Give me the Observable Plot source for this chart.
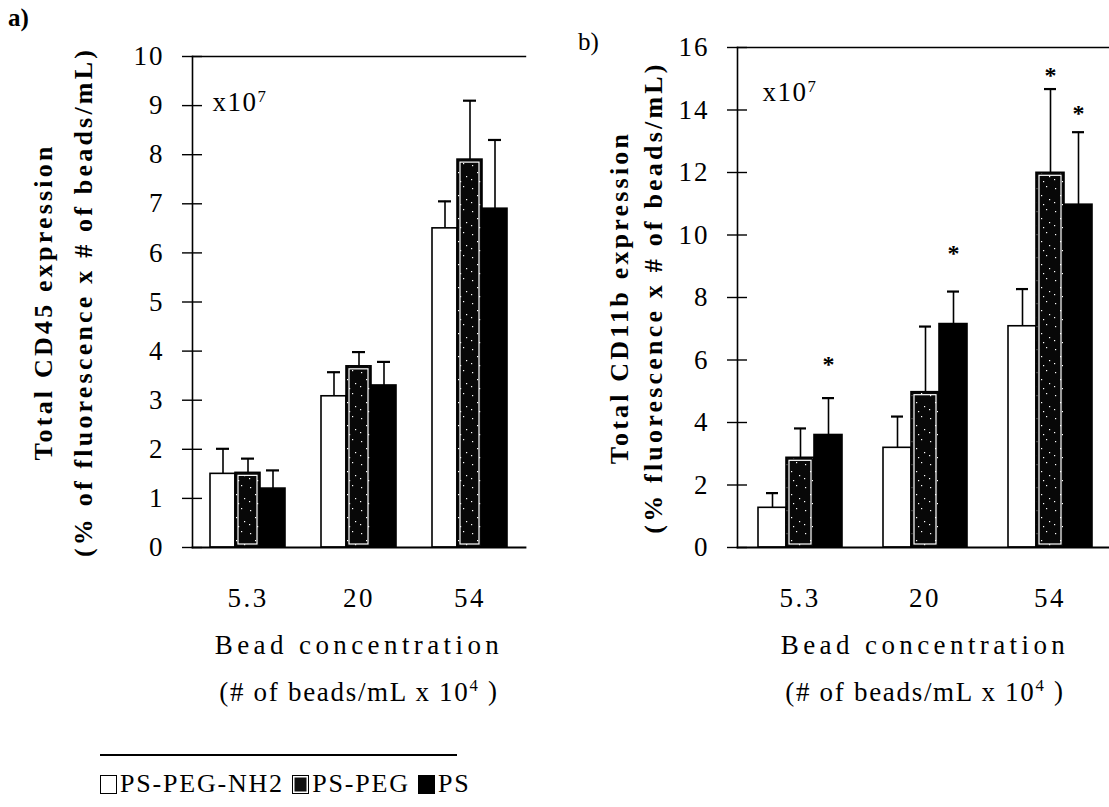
<!DOCTYPE html>
<html><head><meta charset="utf-8">
<script src="https://cdn.jsdelivr.net/npm/d3@7"></script>
<script src="https://cdn.jsdelivr.net/npm/@observablehq/plot@0.6"></script>
<style>
body{margin:0;background:#fff;}
#root{position:relative;width:1109px;height:807px;overflow:hidden;font-family:"Liberation Serif",serif;color:#000;background:#fff;}
.panel{position:absolute;top:0;}
.tag{position:absolute;font-size:25px;}
#legend{position:absolute;left:100px;top:754px;width:400px;}
#legend .rule{border-top:2px solid #000;width:357px;}
#legend .items{margin-top:13px;font-size:26px;display:flex;align-items:center;white-space:nowrap;letter-spacing:1.8px;line-height:30px;}
#legend .sw{display:inline-block;width:17px;height:19px;box-sizing:border-box;border:1.5px solid #000;margin-right:3px;}
</style></head><body><div id="root">
<div class="tag" style="left:8px;top:4px;font-weight:bold;">a)</div>
<div class="tag" style="left:578px;top:28px;">b)</div>
<div id="legend"><div class="rule"></div><div class="items">
<span class="sw" style="background:#fff"></span><span>PS-PEG-NH2&nbsp;</span>
<span class="sw" style="background:#111;box-shadow:inset 0 0 0 1.5px #fff;border-width:1.5px"></span><span>PS-PEG&nbsp;</span>
<span class="sw" style="background:#000"></span><span>PS</span>
</div></div>
</div>
<script>
// ---- data ----
const concentrations = ["5.3", "20", "54"];
const series = ["PS-PEG-NH2", "PS-PEG", "PS"];
// panel a: Total CD45 expression (x10^7), rows = concentration, cols = series
const cd45Mean  = [[1.5, 1.52, 1.2], [3.08, 3.69, 3.3], [6.5, 7.9, 6.9]];
const cd45Upper = [[2.01, 1.81, 1.57], [3.57, 3.98, 3.78], [7.05, 9.1, 8.3]];
// panel b: Total CD11b expression (x10^7)
const cd11bMean  = [[1.27, 2.87, 3.6], [3.19, 4.97, 7.15], [7.08, 11.99, 10.97]];
const cd11bUpper = [[1.74, 3.81, 4.78], [4.19, 7.07, 8.19], [8.27, 14.67, 13.29]];
// significance stars (level in axis units where the star sits; null = none)
const cd11bStar = [[null, null, 5.85], [null, null, 9.4], [null, 15.1, 13.9]];
const yTicksA = [0, 1, 2, 3, 4, 5, 6, 7, 8, 9, 10];
const yTicksB = [0, 2, 4, 6, 8, 10, 12, 14, 16];

function rows(mean, upper, star) {
  const out = [];
  concentrations.forEach((c, i) => series.forEach((s, j) => out.push({
    conc: c, series: s, value: mean[i][j], upper: upper[i][j], star: star ? star[i][j] : null
  })));
  return out;
}

function makePanel(opts) {
  const data = rows(opts.mean, opts.upper, opts.star);
  const pid = opts.pid;
  const serif = "Liberation Serif";
  const marks = [
    Plot.barY(data, {fx: "conc", x: "series", y: "value", fill: "series", stroke: "#000", strokeWidth: 1.6}),
    Plot.barY(data.filter(d => d.series === "PS-PEG"), {fx: "conc", x: "series", y: "value", fill: "none", stroke: "#fff", strokeWidth: 1.2, inset: 3, insetTop: 3}),
    Plot.ruleX(data, {fx: "conc", x: "series", y1: "value", y2: "upper", stroke: "#000", strokeWidth: 1.6}),
    Plot.tickY(data, {fx: "conc", x: "series", y: "upper", stroke: "#000", strokeWidth: 2.2, inset: opts.capInset}),
    Plot.text(data.filter(d => d.star != null), {fx: "conc", x: "series", y: "star", text: () => "*", fontSize: 24, fontWeight: "bold", fontFamily: serif}),
    Plot.frame({facet: "super", anchor: "bottom", stroke: "#000", strokeWidth: 1.8}),
    Plot.frame({facet: "super", anchor: "top", stroke: "#000", strokeWidth: 1.4}),
    Plot.frame({facet: "super", anchor: "left", stroke: "#000", strokeWidth: 1.6}),
    Plot.axisY({ticks: opts.ticks, tickSize: 20, dx: 10, tickFormat: () => "", label: null, stroke: "#000", strokeWidth: 1.4}),
    Plot.axisY({ticks: opts.ticks, tickSize: 0, tickPadding: 28, fontSize: 27, fontFamily: serif, fill: "#000", label: null}),
    Plot.axisFx({anchor: "bottom", tickSize: 0, tickPadding: 40, fontSize: 27, fontFamily: serif, fill: "#000", label: null}),
    Plot.text(["x10^7"], {facet: "super", frameAnchor: "top-left", dx: opts.expDx, dy: opts.expDy, textAnchor: "start", lineAnchor: "middle", fontSize: 27, fontFamily: serif}),
    Plot.text([opts.yLabel], {facet: "super", frameAnchor: "left", rotate: -90, textAnchor: "middle", dx: opts.yLabelDx, dy: opts.yLabelDy, fontSize: 26, fontWeight: "bold", fontFamily: serif, lineHeight: opts.yLabelLH}),
    Plot.text(["Bead concentration"], {facet: "super", frameAnchor: "bottom", dy: 106, fontSize: 27, fontFamily: serif}),
    Plot.text(["(# of beads/mL x 10^4 )"], {facet: "super", frameAnchor: "bottom", dy: 153, fontSize: 27, fontFamily: serif})
  ];
  const chart = Plot.plot({
    width: opts.width,
    height: opts.height,
    marginLeft: opts.marginLeft,
    marginRight: opts.marginRight,
    marginTop: opts.marginTop,
    marginBottom: opts.marginBottom,
    style: {background: "transparent", color: "#000", fontFamily: serif},
    fx: {domain: concentrations, padding: 0, axis: null, label: null},
    x: {domain: series, padding: 0, insetLeft: opts.groupInset, insetRight: opts.groupInset, axis: null},
    y: {domain: [0, opts.yMax], axis: null},
    color: {domain: series, range: ["#ffffff", `url(#speck${pid})`, "#000000"]},
    marks
  });
  const svg = d3.select(chart.tagName.toLowerCase() === "svg" ? chart : chart.querySelector("svg"));
  // letter spacing like the scanned typesetting
  svg.selectAll("text").each(function() {
    const t = this.textContent;
    let ls = null;
    if (t === "Bead concentration") ls = 4.4;
    else if (t.startsWith("(# of beads")) ls = 1.7;
    else if (t.startsWith("Total")) ls = 3.2;
    else if (t.startsWith("x10")) ls = 1.5;
    else if (concentrations.includes(t)) ls = 2.5;
    else if (/^\d+$/.test(t)) ls = 2;
    if (ls != null) this.setAttribute("letter-spacing", ls);
  });
  // pattern for the stippled PS-PEG fill
  const pat = svg.insert("defs", ":first-child").append("pattern")
    .attr("id", `speck${pid}`).attr("patternUnits", "userSpaceOnUse").attr("width", 19).attr("height", 23);
  pat.append("rect").attr("width", 19).attr("height", 23).attr("fill", "#080808");
  [[3,4],[13,2],[8,11],[16,15],[2,18],[10,20]].forEach(([x, y]) =>
    pat.append("rect").attr("x", x).attr("y", y).attr("width", 1.2).attr("height", 1.2).attr("fill", "#fff"));
  // superscripts
  svg.selectAll("text").each(function() {
    const t = this.textContent;
    if (t.includes("^") && this.childElementCount === 0) {
      const m = t.match(/^(.*?)\^(\d)(.*)$/);
      const el = d3.select(this);
      el.text(null);
      el.append("tspan").text(m[1]);
      el.append("tspan").attr("dy", "-0.55em").attr("font-size", "0.62em").text(m[2]);
      if (m[3]) el.append("tspan").attr("dy", "0.34em").text(m[3]);
    }
  });
  chart.classList.add("panel");
  chart.style.left = opts.left + "px";
  return chart;
}

const root = document.getElementById("root");
root.appendChild(makePanel({
  pid: "A", left: 0, width: 530, height: 735, marginLeft: 192, marginRight: 5, marginTop: 56, marginBottom: 188,
  mean: cd45Mean, upper: cd45Upper, star: null, yMax: 10, ticks: yTicksA, capInset: 6, groupInset: 18,
  expDx: 20, expDy: 46, yLabel: "Total CD45 expression\n(% of fluorescence x # of beads/mL)", yLabelDx: -133, yLabelDy: 0, yLabelLH: 1.54
}));
root.appendChild(makePanel({
  pid: "B", left: 555, width: 557, height: 735, marginLeft: 182, marginRight: 0, marginTop: 47, marginBottom: 188,
  mean: cd11bMean, upper: cd11bUpper, star: cd11bStar, yMax: 16, ticks: yTicksB, capInset: 8, groupInset: 20,
  expDx: 25, expDy: 45, yLabel: "Total CD11b expression\n(% fluorescence x # of beads/mL)", yLabelDx: -103, yLabelDy: 0, yLabelLH: 1.3
}));
</script></body></html>
